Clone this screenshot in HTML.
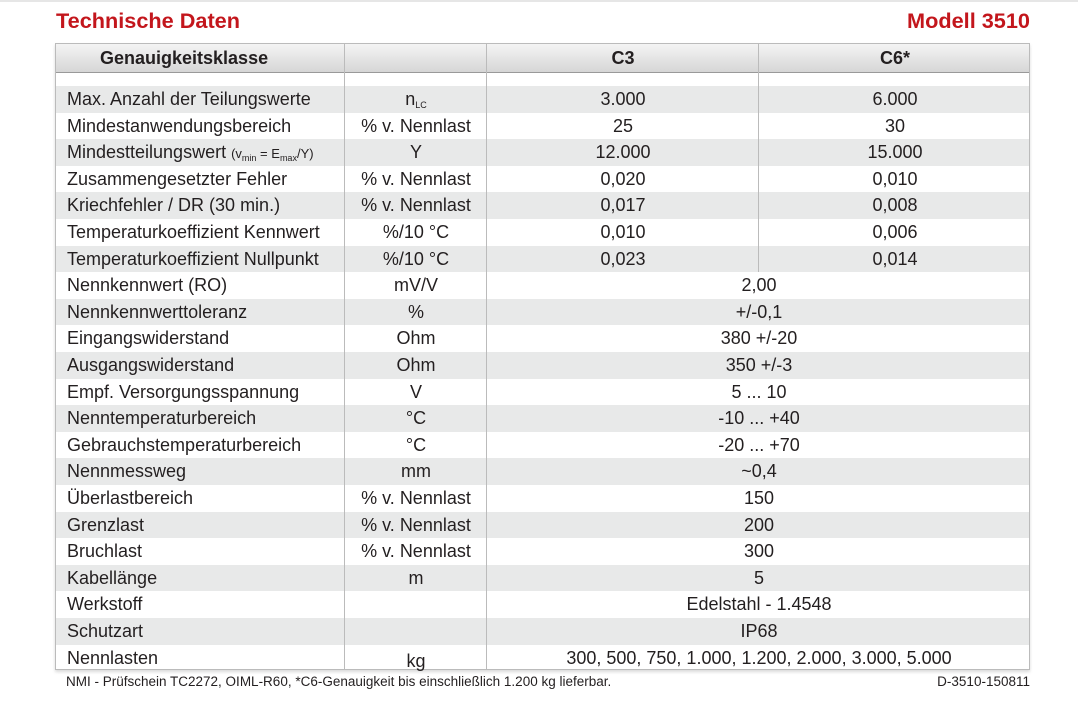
<!DOCTYPE html>
<html><head><meta charset="utf-8"><style>
body{margin:0;width:1078px;height:709px;background:#fff;position:relative;overflow:hidden;font-family:"Liberation Sans",sans-serif;color:#231f20}
.t{position:absolute;font-weight:bold;color:#c3161c;font-size:21.7px;top:8px}
.tbl{position:absolute;left:55px;top:43px;width:975px;height:627px;border:1px solid #bbb;box-sizing:border-box;box-shadow:0 2px 3px rgba(0,0,0,.15)}
.hd{position:absolute;left:0;top:0;width:100%;height:28px;background:linear-gradient(#f4f4f4,#d6d6d6);border-bottom:1px solid #999}
.r{position:absolute;left:0;width:100%;height:26.6px;font-size:18px;line-height:26.6px}
.g{background:#e8e9e9}
.r span{position:absolute;top:0;white-space:nowrap}
.a{left:11px}.b{left:289px;width:142px;text-align:center}.c{left:431px;width:272px;text-align:center}.d{left:703px;width:272px;text-align:center}.e{left:431px;width:544px;text-align:center}
.v{position:absolute;width:1px;background:#bbb}
.hd span{position:absolute;font-weight:bold;font-size:18px;line-height:28px}
sub{font-size:9px;vertical-align:-3px}
.f{position:absolute;top:674px;font-size:13.5px;transform-origin:left top}
</style></head><body>
<div style="position:absolute;left:0;top:0;width:1078px;height:2px;background:#e6e6e6"></div>
<div class="t" style="left:56px">Technische Daten</div>
<div class="t" style="right:48px">Modell 3510</div>
<div class="tbl">
<div class="hd"><span style="left:44px">Genauigkeitsklasse</span><span style="left:431px;width:272px;text-align:center">C3</span><span style="left:703px;width:272px;text-align:center">C6*</span></div>
<div class="r g" style="top:42px"><span class="a">Max. Anzahl der Teilungswerte</span><span class="b">n<sub>LC</sub></span><span class="c">3.000</span><span class="d">6.000</span></div>
<div class="r" style="top:68.6px"><span class="a">Mindestanwendungsbereich</span><span class="b">% v. Nennlast</span><span class="c">25</span><span class="d">30</span></div>
<div class="r g" style="top:95.2px"><span class="a">Mindestteilungswert <small style="font-size:13px">(v<sub>min</sub> = E<sub>max</sub>/Y)</small></span><span class="b">Y</span><span class="c">12.000</span><span class="d">15.000</span></div>
<div class="r" style="top:121.8px"><span class="a">Zusammengesetzter Fehler</span><span class="b">% v. Nennlast</span><span class="c">0,020</span><span class="d">0,010</span></div>
<div class="r g" style="top:148.4px"><span class="a">Kriechfehler / DR (30 min.)</span><span class="b">% v. Nennlast</span><span class="c">0,017</span><span class="d">0,008</span></div>
<div class="r" style="top:175px"><span class="a">Temperaturkoeffizient Kennwert</span><span class="b">%/10 °C</span><span class="c">0,010</span><span class="d">0,006</span></div>
<div class="r g" style="top:201.6px"><span class="a">Temperaturkoeffizient Nullpunkt</span><span class="b">%/10 °C</span><span class="c">0,023</span><span class="d">0,014</span></div>
<div class="r" style="top:228.2px"><span class="a">Nennkennwert (RO)</span><span class="b">mV/V</span><span class="e">2,00</span></div>
<div class="r g" style="top:254.8px"><span class="a">Nennkennwerttoleranz</span><span class="b">%</span><span class="e">+/-0,1</span></div>
<div class="r" style="top:281.4px"><span class="a">Eingangswiderstand</span><span class="b">Ohm</span><span class="e">380 +/-20</span></div>
<div class="r g" style="top:308px"><span class="a">Ausgangswiderstand</span><span class="b">Ohm</span><span class="e">350 +/-3</span></div>
<div class="r" style="top:334.6px"><span class="a">Empf. Versorgungsspannung</span><span class="b">V</span><span class="e">5 ... 10</span></div>
<div class="r g" style="top:361.2px"><span class="a">Nenntemperaturbereich</span><span class="b">°C</span><span class="e">-10 ... +40</span></div>
<div class="r" style="top:387.8px"><span class="a">Gebrauchstemperaturbereich</span><span class="b">°C</span><span class="e">-20 ... +70</span></div>
<div class="r g" style="top:414.4px"><span class="a">Nennmessweg</span><span class="b">mm</span><span class="e">~0,4</span></div>
<div class="r" style="top:441px"><span class="a">Überlastbereich</span><span class="b">% v. Nennlast</span><span class="e">150</span></div>
<div class="r g" style="top:467.6px"><span class="a">Grenzlast</span><span class="b">% v. Nennlast</span><span class="e">200</span></div>
<div class="r" style="top:494.2px"><span class="a">Bruchlast</span><span class="b">% v. Nennlast</span><span class="e">300</span></div>
<div class="r g" style="top:520.8px"><span class="a">Kabellänge</span><span class="b">m</span><span class="e">5</span></div>
<div class="r" style="top:547.4px"><span class="a">Werkstoff</span><span class="e">Edelstahl - 1.4548</span></div>
<div class="r g" style="top:574px"><span class="a">Schutzart</span><span class="e">IP68</span></div>
<div class="r" style="top:600.6px"><span class="a">Nennlasten</span><span class="b" style="top:3px">kg</span><span class="e">300, 500, 750, 1.000, 1.200, 2.000, 3.000, 5.000</span></div>
<div class="v" style="left:288px;top:0;height:626px"></div>
<div class="v" style="left:430px;top:0;height:626px"></div>
<div class="v" style="left:702px;top:0;height:228px"></div>
</div>
<div class="f" style="left:66px">NMI - Prüfschein TC2272, OIML-R60, *C6-Genauigkeit bis einschließlich 1.200 kg lieferbar.</div>
<div class="f" style="right:48px">D-3510-150811</div>
</body></html>
